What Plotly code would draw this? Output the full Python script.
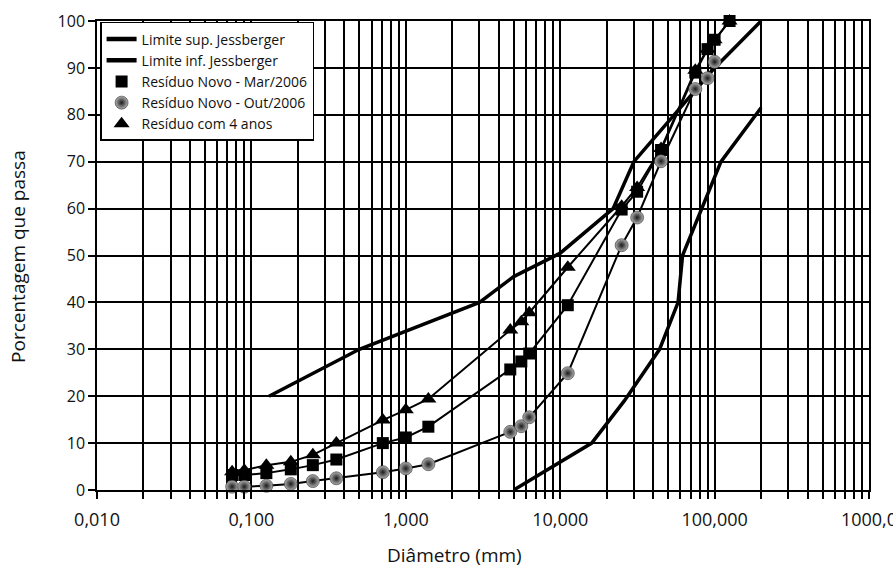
import plotly.graph_objects as go

# ---------------- data ----------------
sup_x = [0.13, 0.5, 3.0, 5.0, 10.0, 22.0, 30.0, 100.0, 200.0]
sup_y = [20.0, 30.0, 40.0, 45.5, 50.5, 60.0, 70.0, 90.0, 100.0]

inf_x = [5.0, 16.0, 26.0, 44.0, 58.0, 62.0, 110.0, 200.0]
inf_y = [0.0, 10.0, 19.0, 30.0, 40.0, 50.0, 70.0, 81.5]

sieves = [0.075, 0.09, 0.125, 0.18, 0.25, 0.355, 0.71, 1.0, 1.4,
          4.75, 5.6, 6.3, 11.2, 25.0, 31.5, 45.0, 75.0, 90.0, 100.0, 125.0]

mar_y = [3.2, 3.2, 3.6, 4.4, 5.3, 6.5, 10.0, 11.2, 13.5,
         25.7, 27.4, 29.1, 39.4, 59.8, 63.6, 72.5, 89.0, 94.0, 96.0, 100.0]

out_x = [0.075, 0.09, 0.125, 0.18, 0.25, 0.355, 0.71, 1.0, 1.4,
         4.75, 5.6, 6.3, 11.2, 25.0, 31.5, 45.0, 75.0, 90.0, 100.0]
out_y = [0.7, 0.7, 0.9, 1.3, 1.9, 2.5, 3.8, 4.6, 5.5,
         12.4, 13.6, 15.5, 24.9, 52.2, 58.1, 70.1, 85.5, 87.8, 91.3]

anos_y = [3.9, 4.2, 5.3, 6.0, 7.5, 10.0, 14.9, 17.1, 19.4,
          34.1, 35.9, 37.8, 47.5, 60.5, 64.5, 72.8, 89.5, 94.0, 96.0, 100.0]

legend_names = ["Limite sup. Jessberger", "Limite inf. Jessberger",
                "Resíduo Novo - Mar/2006", "Resíduo Novo - Out/2006",
                "Resíduo com 4 anos"]

x_title = "Diâmetro (mm)"
y_title = "Porcentagem que passa"

x_tickvals = [0.01, 0.1, 1, 10, 100, 1000]
x_ticktext = ["0,010", "0,100", "1,000", "10,000", "100,000", "1000,0"]
y_tickvals = [0, 10, 20, 30, 40, 50, 60, 70, 80, 90, 100]

minor_vals = [m * d for d in [0.01, 0.1, 1, 10, 100] for m in range(2, 10)]

# ---------------- styles ----------------
sq = dict(symbol="square", size=12, color="black")
sph = dict(symbol="circle", size=13, color="#b0b0b0",
           gradient=dict(type="radial", color="#1a1a1a"),
           line=dict(width=0.6, color="#333"))
tri = dict(symbol="triangle-up", size=14, color="black")

fig = go.Figure()

fig.add_trace(go.Scatter(x=sup_x, y=sup_y, mode="lines", name=legend_names[0],
                         line=dict(color="black", width=3.5), showlegend=False))
fig.add_trace(go.Scatter(x=inf_x, y=inf_y, mode="lines", name=legend_names[1],
                         line=dict(color="black", width=3.5), showlegend=False))
fig.add_trace(go.Scatter(x=sieves, y=anos_y, mode="lines+markers", name=legend_names[4],
                         line=dict(color="black", width=2), marker=tri,
                         showlegend=False, cliponaxis=False))
fig.add_trace(go.Scatter(x=sieves, y=mar_y, mode="lines+markers", name=legend_names[2],
                         line=dict(color="black", width=2), marker=sq,
                         showlegend=False, cliponaxis=False))
fig.add_trace(go.Scatter(x=out_x, y=out_y, mode="lines+markers", name=legend_names[3],
                         line=dict(color="black", width=2), marker=sph,
                         showlegend=False, cliponaxis=False))

# legend entries (symbol only, like the original)
fig.add_trace(go.Scatter(x=[None], y=[None], mode="lines", name=legend_names[0],
                         line=dict(color="black", width=4.5)))
fig.add_trace(go.Scatter(x=[None], y=[None], mode="lines", name=legend_names[1],
                         line=dict(color="black", width=4.5)))
fig.add_trace(go.Scatter(x=[None], y=[None], mode="markers", name=legend_names[2], marker=sq))
fig.add_trace(go.Scatter(x=[None], y=[None], mode="markers", name=legend_names[3], marker=sph))
fig.add_trace(go.Scatter(x=[None], y=[None], mode="markers", name=legend_names[4], marker=tri))

fig.update_layout(
    width=893, height=567,
    margin=dict(l=97, r=24, t=21, b=77),
    paper_bgcolor="white", plot_bgcolor="white",
    font=dict(family="Open Sans, sans-serif", color="#111"),
    legend=dict(x=0.004, y=0.998, xanchor="left", yanchor="top",
                bgcolor="white", bordercolor="black", borderwidth=1.5,
                font=dict(family="Open Sans, sans-serif", size=14, color="#111"),
                itemwidth=30, tracegroupgap=0),
    showlegend=True,
    annotations=[
        dict(text=x_title, xref="paper", yref="paper", x=0.4637, y=-0.1386,
             xanchor="center", yanchor="middle", showarrow=False,
             font=dict(family="Open Sans, sans-serif", size=19, color="#111")),
        dict(text=y_title, xref="paper", yref="paper", x=-0.1023, y=0.497,
             xanchor="center", yanchor="middle", showarrow=False, textangle=-90,
             font=dict(family="Open Sans, sans-serif", size=19, color="#111")),
    ],
)

fig.update_xaxes(
    type="log", range=[-2, 3], automargin=False,
    tickvals=x_tickvals, ticktext=x_ticktext, ticklabeloverflow="allow",
    ticks="outside", ticklen=7, tickwidth=1.5, tickcolor="black",
    ticklabelstandoff=6,
    showgrid=True, gridcolor="black", gridwidth=1.5,
    minor=dict(tickvals=minor_vals, ticks="outside", ticklen=7, tickwidth=1.5,
               tickcolor="black", showgrid=True, gridcolor="black", gridwidth=1.5),
    showline=True, linecolor="black", linewidth=1.5, mirror=True,
    tickfont=dict(family="Open Sans, sans-serif", size=18, color="#111"),
    zeroline=False,
)
fig.update_yaxes(
    range=[0, 100], tickvals=y_tickvals, automargin=False,
    ticks="outside", ticklen=7, tickwidth=1.5, tickcolor="black",
    showgrid=True, gridcolor="black", gridwidth=1.5,
    showline=True, linecolor="black", linewidth=1.5, mirror=True,
    tickfont=dict(family="Open Sans, sans-serif", size=16, color="#111"),
    zeroline=False,
)

fig.write_html("out.html")
